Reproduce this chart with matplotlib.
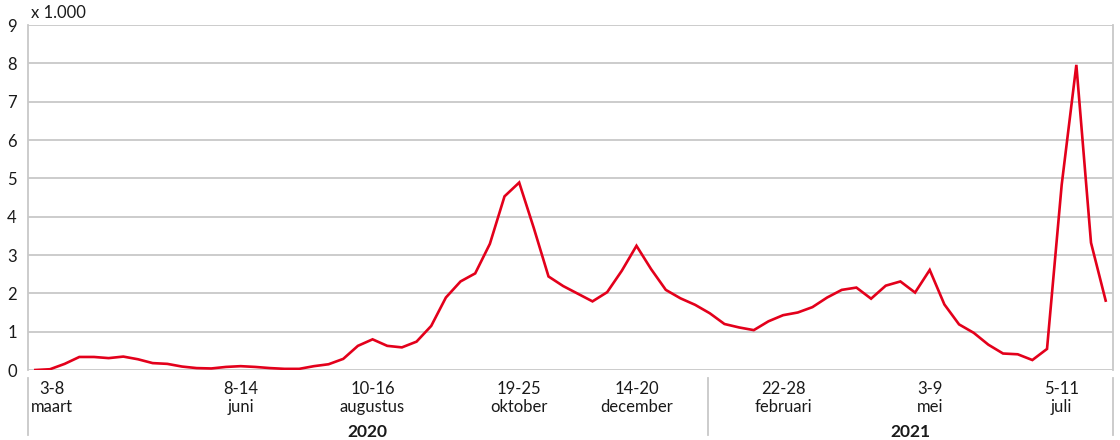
"""Weekly counts (x 1.000), March 2020 - July 2021."""

import matplotlib

matplotlib.use("Agg")
import matplotlib.pyplot as plt
from matplotlib.lines import Line2D
from matplotlib.transforms import blended_transform_factory

# weekly values, week 10 of 2020 up to week 30 of 2021 (x 1.000)
values = [
    0.00, 0.02, 0.16, 0.34, 0.34, 0.31, 0.35, 0.28, 0.18, 0.16,
    0.09, 0.05, 0.04, 0.08, 0.10, 0.08, 0.05, 0.03, 0.03, 0.10,
    0.15, 0.29, 0.63, 0.80, 0.63, 0.59, 0.74, 1.15, 1.89, 2.31,
    2.52, 3.29, 4.53, 4.89, 3.70, 2.44, 2.19, 1.99, 1.79, 2.03,
    2.59, 3.24, 2.63, 2.09, 1.87, 1.70, 1.48, 1.20, 1.11, 1.04,
    1.27, 1.43, 1.50, 1.64, 1.89, 2.09, 2.15, 1.86, 2.20, 2.31,
    2.02, 2.61, 1.71, 1.19, 0.97, 0.66, 0.43, 0.41, 0.26, 0.55,
    4.83, 7.96, 3.32, 1.81,
]

tick_idx = [0, 14, 23, 33, 41, 51, 61, 70]
tick_week = ["3-8", "8-14", "10-16", "19-25", "14-20", "22-28", "3-9", "5-11"]
tick_month = ["maart", "juni", "augustus", "oktober", "december",
              "februari", "mei", "juli"]
years = ["2020", "2021"]
year_split = 45.86  # where the 2021 block starts on the category axis

RED = "#e3001b"
GRID = "#c8c8c8"
TXT = "#1a1a1a"
FS = 12

plt.rcParams["font.family"] = ["Lato", "DejaVu Sans"]

fig = plt.figure(figsize=(11.2, 4.4), dpi=100)
ax = fig.add_axes([28 / 1120, 70 / 440, 1085 / 1120, 345 / 440])

x = list(range(len(values)))
ax.plot(x, values, color=RED, linewidth=1.9, solid_joinstyle="miter", zorder=3)

ax.set_xlim(-0.5, len(values) - 0.5)
ax.set_ylim(0, 9)
ax.set_yticks(range(10))
ax.set_yticklabels([str(v) for v in range(10)])
ax.tick_params(axis="y", length=0, pad=8, labelsize=FS, labelcolor=TXT)
ax.set_xticks([])
ax.yaxis.grid(True, color=GRID, linewidth=1.3)
ax.set_axisbelow(True)
for side in ("left", "right"):
    ax.spines[side].set_color(GRID)
    ax.spines[side].set_linewidth(1.3)
for side in ("top", "bottom"):
    ax.spines[side].set_visible(False)

# two-line category labels under the axis
tr = blended_transform_factory(ax.transData, fig.transFigure)
for i, (idx, wk, mo) in enumerate(zip(tick_idx, tick_week, tick_month)):
    # the first label is nudged right so it stays inside the axis
    xpos = idx + 1.15 if i == 0 else idx
    ax.text(xpos, 1 - 394 / 440, wk, transform=tr, ha="center",
            va="baseline", fontsize=FS, color=TXT)
    ax.text(xpos, 1 - 411.5 / 440, mo, transform=tr, ha="center",
            va="baseline", fontsize=FS, color=TXT)

# year separators and year labels
x0, x1 = -0.5, len(values) - 0.5
for xs in (x0, year_split, x1):
    fig.add_artist(Line2D([xs, xs], [1 - 378 / 440, 1 - 435 / 440],
                          transform=tr, color=GRID, linewidth=1.3))
for yr, (a, b) in zip(years, [(x0, year_split), (year_split, x1)]):
    ax.text((a + b) / 2, 1 - 437 / 440, yr, transform=tr, ha="center",
            va="baseline", fontsize=12.5, fontweight="bold", color=TXT)

fig.text(31 / 1120, 1 - 18 / 440, "x 1.000", ha="left", va="baseline",
         fontsize=FS, color=TXT)

fig.savefig("out.png", dpi=100)
